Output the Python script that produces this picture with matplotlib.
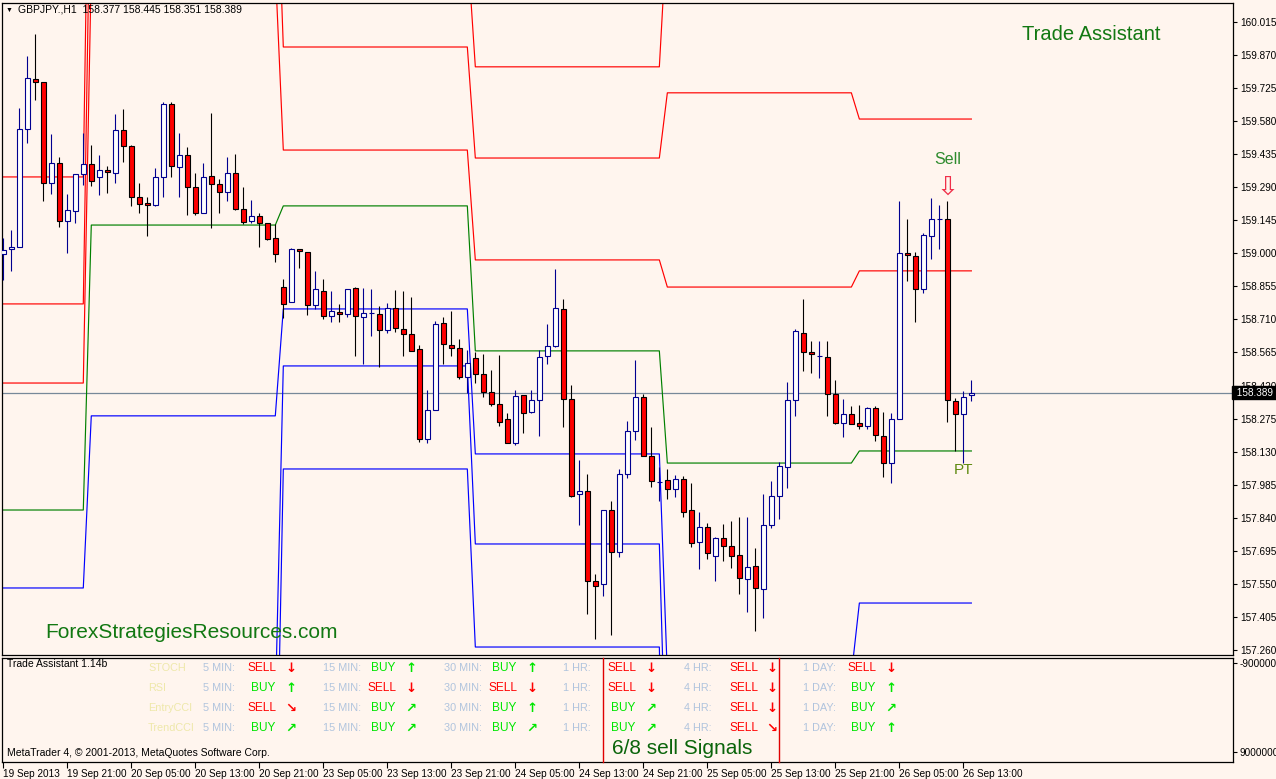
import numpy as np
import matplotlib
matplotlib.use("Agg")
import matplotlib.pyplot as plt
import matplotlib.transforms as mtransforms
from matplotlib.lines import Line2D

plt.rcParams['font.family'] = ['Liberation Sans', 'DejaVu Sans']

W, H = 1276, 779
BG = '#FFF5EE'

# GBPJPY H1 candles, first bar 19 Sep 13:00
opens = [158.997, 159.019, 159.028, 159.546, 159.765, 159.752, 159.309, 159.396, 159.142, 159.186,
         159.348, 159.392, 159.335, 159.366, 159.353, 159.541, 159.471, 159.247, 159.221, 159.212,
         159.335, 159.655, 159.379, 159.432, 159.291, 159.177, 159.339, 159.304, 159.269, 159.353,
         159.195, 159.142, 159.164, 159.133, 159.067, 158.852, 158.787, 159.019, 159.006, 158.774,
         158.835, 158.725, 158.743, 158.734, 158.848, 158.721, 158.738, 158.734, 158.664, 158.760,
         158.668, 158.646, 158.580, 158.186, 158.313, 158.695, 158.598, 158.585, 158.458, 158.541,
         158.471, 158.392, 158.339, 158.273, 158.168, 158.379, 158.304, 158.357, 158.550, 158.594,
         158.756, 158.361, 157.944, 157.958, 157.563, 157.550, 157.874, 157.690, 158.032, 158.221,
         158.370, 158.111, 157.997, 158.006, 157.966, 158.010, 157.874, 157.734, 157.800, 157.672,
         157.751, 157.716, 157.677, 157.571, 157.628, 157.528, 157.808, 157.936, 158.063, 158.357,
         158.651, 158.567, 158.550, 158.545, 158.383, 158.256, 158.295, 158.256, 158.243, 158.322,
         158.199, 158.080, 158.273, 159.001, 158.988, 158.844, 159.076, 159.151, 159.151, 158.352,
         158.295, 158.377]
highs = [159.067, 159.103, 159.638, 159.866, 159.962, 159.752, 159.524, 159.423, 159.260, 159.348,
         159.528, 159.475, 159.432, 159.383, 159.611, 159.633, 159.475, 159.309, 159.247, 159.375,
         159.664, 159.664, 159.528, 159.467, 159.353, 159.396, 159.616, 159.326, 159.423, 159.436,
         159.291, 159.234, 159.177, 159.133, 159.129, 158.888, 159.024, 159.019, 159.006, 158.923,
         158.888, 158.835, 158.778, 158.844, 158.852, 158.848, 158.844, 158.769, 158.782, 158.839,
         158.835, 158.809, 158.598, 158.401, 158.703, 158.721, 158.747, 158.624, 158.576, 158.567,
         158.559, 158.488, 158.554, 158.300, 158.401, 158.379, 158.401, 158.576, 158.690, 158.931,
         158.800, 158.423, 158.094, 158.032, 157.593, 157.874, 157.914, 158.054, 158.265, 158.532,
         158.383, 158.238, 158.063, 158.054, 158.028, 158.023, 157.993, 157.865, 157.817, 157.756,
         157.813, 157.826, 157.843, 157.843, 157.707, 157.944, 158.001, 158.085, 158.436, 158.668,
         158.800, 158.616, 158.616, 158.616, 158.444, 158.361, 158.330, 158.335, 158.326, 158.330,
         158.304, 158.300, 159.230, 159.151, 159.006, 159.089, 159.243, 159.212, 159.230, 158.366,
         158.396, 158.445]
lows = [158.883, 158.923, 159.028, 159.484, 159.673, 159.230, 159.260, 159.116, 159.001, 159.133,
        159.300, 159.296, 159.256, 159.265, 159.309, 159.401, 159.208, 159.177, 159.076, 159.208,
        159.247, 159.335, 159.247, 159.168, 159.168, 159.177, 159.111, 159.177, 159.230, 159.190,
        159.129, 159.133, 159.028, 159.059, 158.962, 158.716, 158.787, 158.936, 158.730, 158.756,
        158.712, 158.699, 158.699, 158.721, 158.550, 158.515, 158.638, 158.502, 158.651, 158.655,
        158.550, 158.572, 158.172, 158.168, 158.313, 158.515, 158.550, 158.449, 158.387, 158.431,
        158.370, 158.330, 158.243, 158.168, 158.159, 158.212, 158.300, 158.199, 158.515, 158.589,
        158.238, 157.931, 157.808, 157.418, 157.308, 157.497, 157.326, 157.668, 158.015, 158.181,
        158.111, 157.975, 157.914, 157.922, 157.931, 157.843, 157.712, 157.615, 157.659, 157.563,
        157.650, 157.620, 157.506, 157.427, 157.343, 157.400, 157.795, 157.835, 157.971, 158.287,
        158.484, 158.475, 158.453, 158.287, 158.252, 158.194, 158.252, 158.230, 158.230, 158.177,
        158.019, 157.993, 158.273, 158.879, 158.699, 158.826, 158.975, 159.019, 158.260, 158.133,
        158.080, 158.351]
closes = [159.015, 159.028, 159.546, 159.769, 159.752, 159.309, 159.396, 159.142, 159.190, 159.348,
          159.392, 159.317, 159.366, 159.357, 159.541, 159.471, 159.247, 159.217, 159.212, 159.335,
          159.655, 159.383, 159.432, 159.291, 159.177, 159.335, 159.304, 159.269, 159.353, 159.195,
          159.138, 159.164, 159.133, 159.063, 158.997, 158.778, 159.019, 159.010, 158.774, 158.844,
          158.725, 158.747, 158.734, 158.844, 158.725, 158.738, 158.738, 158.664, 158.760, 158.673,
          158.646, 158.572, 158.186, 158.313, 158.690, 158.602, 158.585, 158.458, 158.519, 158.471,
          158.392, 158.339, 158.260, 158.168, 158.374, 158.300, 158.357, 158.545, 158.594, 158.760,
          158.361, 157.936, 157.958, 157.563, 157.541, 157.874, 157.690, 158.032, 158.221, 158.370,
          158.111, 158.001, 157.997, 157.966, 158.010, 157.865, 157.729, 157.800, 157.685, 157.751,
          157.716, 157.672, 157.576, 157.624, 157.532, 157.808, 157.936, 158.067, 158.357, 158.659,
          158.567, 158.559, 158.550, 158.383, 158.256, 158.295, 158.252, 158.243, 158.322, 158.203,
          158.080, 158.273, 159.001, 158.993, 158.844, 159.081, 159.151, 159.151, 158.357, 158.295,
          158.370, 158.389]

# daily pivot levels (one value per trading day shown)
day_bars = [11, 24, 24, 24, 24, 15]
r3 = [159.335, 161.600, 160.350, 159.818, 160.450, 160.300]
r2 = [158.778, 160.900, 159.905, 159.418, 159.704, 159.589]
r1 = [158.431, 160.250, 159.453, 158.971, 158.852, 158.923]
pp = [157.874, 159.124, 159.208, 158.572, 158.080, 158.133]
s1 = [157.532, 158.287, 158.756, 158.120, 157.150, 157.466]
s2 = [157.100, 157.000, 158.506, 157.725, 156.500, 156.800]
s3 = [156.700, 156.300, 158.054, 157.273, 155.700, 156.100]

bid = 158.389
price_ticks = [157.260, 157.405, 157.550, 157.695, 157.840, 157.985, 158.130, 158.275, 158.420, 158.565,
               158.710, 158.855, 159.000, 159.145, 159.290, 159.435, 159.580, 159.725, 159.870, 160.015]
time_ticks = [0, 8, 16, 24, 32, 40, 48, 56, 64, 72, 80, 88, 96, 104, 112, 120]
time_labels = ["19 Sep 2013", "19 Sep 21:00", "20 Sep 05:00", "20 Sep 13:00", "20 Sep 21:00",
               "23 Sep 05:00", "23 Sep 13:00", "23 Sep 21:00", "24 Sep 05:00", "24 Sep 13:00",
               "24 Sep 21:00", "25 Sep 05:00", "25 Sep 13:00", "25 Sep 21:00", "26 Sep 05:00",
               "26 Sep 13:00"]

# Trade Assistant panel
indicators = ["STOCH", "RSI", "EntryCCI", "TrendCCI"]
timeframes = ["5 MIN:", "15 MIN:", "30 MIN:", "1 HR:", "4 HR:", "1 DAY:"]
signals = [["SELL", "BUY", "BUY", "SELL", "SELL", "SELL"],
           ["BUY", "SELL", "SELL", "SELL", "SELL", "BUY"],
           ["SELL", "BUY", "BUY", "BUY", "SELL", "BUY"],
           ["BUY", "BUY", "BUY", "BUY", "SELL", "BUY"]]
arrows = [["↓", "↑", "↑", "↓", "↓", "↓"],
          ["↑", "↓", "↓", "↓", "↓", "↑"],
          ["↘", "↗", "↑", "↗", "↓", "↗"],
          ["↗", "↗", "↗", "↗", "↘", "↑"]]


def px(x, y):
    return x / W, 1 - y / H


fig = plt.figure(figsize=(W / 100, H / 100), dpi=100)
fig.patch.set_facecolor(BG)

ax = fig.add_axes([2 / W, 1 - 655 / H, 1231 / W, 652 / H])
ax.set_facecolor(BG)
ax.set_xlim(-0.16, 153.7)
ax.set_ylim(157.238, 160.098)

o = np.array(opens)
h = np.array(highs)
l = np.array(lows)
c = np.array(closes)
x = np.arange(len(o))
bull = c >= o

# pivot lines
for vals, col in [(r3, '#FF0000'), (r2, '#FF0000'), (r1, '#FF0000'), (pp, '#008000'),
                  (s1, '#0000FF'), (s2, '#0000FF'), (s3, '#0000FF')]:
    ax.plot(x, np.repeat(vals, day_bars), color=col, lw=0.85, zorder=2)

ax.axhline(bid, color='#778899', lw=0.9, zorder=1.5)

# candles
ax.vlines(x[bull], l[bull], h[bull], color='#000090', lw=0.8, zorder=3)
ax.vlines(x[~bull], l[~bull], h[~bull], color='black', lw=0.8, zorder=3)
ax.bar(x[bull], (c - o)[bull], bottom=o[bull], width=0.6, color='white',
       edgecolor='#000090', lw=0.8, zorder=4)
ax.bar(x[~bull], (c - o)[~bull], bottom=o[~bull], width=0.6, color='#FF0000',
       edgecolor='black', lw=0.8, zorder=4)

ax.set_xticks([])
ax.yaxis.tick_right()
ax.set_yticks(price_ticks)
ax.set_yticklabels(["%.3f" % p for p in price_ticks])
ax.tick_params(axis='y', length=3, width=0.8, pad=2, labelsize=7.2)
for s in ax.spines.values():
    s.set_linewidth(0.9)

tr = mtransforms.blended_transform_factory(ax.transAxes, ax.transData)
ax.text(1.0008, bid, " 158.389 ", transform=tr, ha='left', va='center', color='white',
        fontsize=7.2, zorder=10, clip_on=False,
        bbox=dict(facecolor='black', edgecolor='black', pad=1.2))

# annotations on the chart
ax.text(118, 159.41, "Sell", color='#2E8B2E', fontsize=11.5, ha='center', va='center')
ax.text(118, 159.29, "⇩", color='#F0304A', fontsize=19, ha='center', va='center',
        family='DejaVu Sans')
ax.text(120, 158.05, "PT", color='#5E8A10', fontsize=11, ha='center', va='center')

fig.text(*px(9, 10), "▼", fontsize=5, ha='center', va='center')
fig.text(*px(18, 10), "GBPJPY.,H1  158.377 158.445 158.351 158.389", fontsize=7.5,
         ha='left', va='center')
fig.text(*px(1091, 34), "Trade Assistant", color='#127812', fontsize=14.5, ha='center', va='center')
fig.text(*px(45, 632), "ForexStrategiesResources.com", color='#127812', fontsize=15,
         ha='left', va='center')

# lower panel
ax2 = fig.add_axes([2 / W, 1 - 762 / H, 1231 / W, 104 / H])
ax2.set_facecolor(BG)
ax2.set_xlim(-0.16, 153.7)
ax2.set_ylim(0, 1)
ax2.yaxis.tick_right()
ax2.set_yticks([0.952, 0.096])
ax2.set_yticklabels(["-9000000", "9000000"])
ax2.tick_params(axis='y', length=3, width=0.8, pad=2, labelsize=7.2)
ax2.set_xticks(time_ticks)
ax2.set_xticklabels(time_labels, ha='left')
ax2.tick_params(axis='x', length=4, width=0.8, pad=1, labelsize=7.2)
for s in ax2.spines.values():
    s.set_linewidth(0.9)

for xx in [603, 779]:
    fig.add_artist(Line2D([xx / W, xx / W], [1 - 658 / H, 1 - 762 / H], color='#E00000',
                          lw=1.0, transform=fig.transFigure))

fig.text(*px(7, 664), "Trade Assistant 1.14b", fontsize=7.5, ha='left', va='center')
fig.text(*px(7, 753), "MetaTrader 4, © 2001-2013, MetaQuotes Software Corp.", fontsize=7.5,
         ha='left', va='center')
fig.text(*px(612, 749), "6/8 sell Signals", color='#0A640A', fontsize=15, ha='left', va='center')

row_y = [668, 688, 708, 728]
col_x = [203, 323, 444, 563, 684, 803]
for r, name in enumerate(indicators):
    yy = row_y[r]
    fig.text(*px(148, yy), name, color='#EEE8AA', fontsize=7.8, ha='left', va='center')
    for k, tf in enumerate(timeframes):
        x0 = col_x[k]
        fig.text(*px(x0, yy), tf, color='#B0C4DE', fontsize=7.8, ha='left', va='center')
        sig = signals[r][k]
        col = '#FF0000' if sig == "SELL" else '#00E600'
        off = 45 if sig == "SELL" else 48
        fig.text(*px(x0 + off, yy), sig, color=col, fontsize=8.6, ha='left', va='center')
        fig.text(*px(x0 + 82, yy), arrows[r][k], color=col, fontsize=9.5, fontweight='bold',
                 ha='left', va='center', family='DejaVu Sans')

fig.savefig("out.png", dpi=100, facecolor=BG)
